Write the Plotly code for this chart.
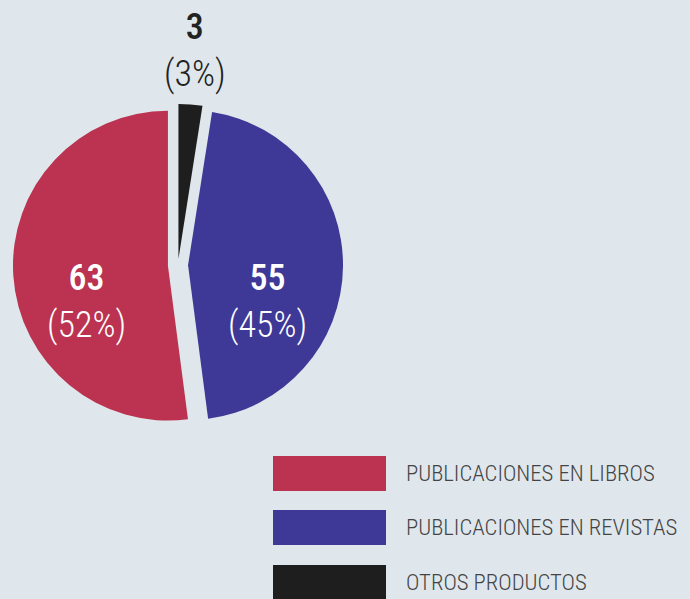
import plotly.graph_objects as go

labels = ["PUBLICACIONES EN LIBROS", "PUBLICACIONES EN REVISTAS", "OTROS PRODUCTOS"]
values = [63, 55, 3]
pct_labels = ["52%", "45%", "3%"]
colors = ["#bb3350", "#3e3996", "#1e1e1e"]
label_colors = ["white", "white", "#222222"]
pulls = [0.065, 0.065, 0.04]

FONT = "Roboto Condensed, Roboto, sans-serif"
BG = "#dfe7ed"
W, H = 690, 599

# slices drawn clockwise from 12 o'clock in reverse order (Otros, Revistas, Libros)
order = [2, 1, 0]

fig = go.Figure()
fig.add_trace(go.Pie(
    labels=[labels[i] for i in order],
    values=[values[i] for i in order],
    textinfo="none",
    marker=dict(colors=[colors[i] for i in order], line=dict(width=0)),
    pull=[pulls[i] for i in order],
    sort=False,
    direction="clockwise",
    rotation=0,
    hoverinfo="label+value",
    showlegend=False,
    domain=dict(x=[0.0188, 0.4971], y=[0.2821, 0.8331]),
))

# value / percentage labels (layout positions in pixels, per slice)
label_xy = [(86, 301), (267, 301), (195, 51)]
for v, p, c, (lx, ly) in zip(values, pct_labels, label_colors, label_xy):
    fig.add_annotation(xref="paper", yref="paper", x=lx / W, y=1 - ly / H,
                       text=f"<span style=\"font-weight:500\">{v}</span><br>({p})",
                       showarrow=False, xanchor="center", yanchor="middle",
                       font=dict(family=FONT, size=36, color=c, weight=300))

# custom legend: large colour swatches with labels
sw_x0, sw_x1 = 273, 386
row_tops = [456, 510, 565]
sw_h = 35
for lab, col, top in zip(labels, colors, row_tops):
    fig.add_shape(type="rect", xref="paper", yref="paper",
                  x0=sw_x0 / W, x1=sw_x1 / W,
                  y0=1 - (top + sw_h) / H, y1=1 - top / H,
                  fillcolor=col, line=dict(width=0), layer="above")
    fig.add_annotation(xref="paper", yref="paper", x=404 / W,
                       y=1 - (top + sw_h / 2) / H,
                       text=lab, showarrow=False, xanchor="left", yanchor="middle",
                       font=dict(family=FONT, size=22.7, color="#444444", weight=300))

fig.update_layout(
    width=W, height=H,
    margin=dict(l=0, r=0, t=0, b=0, autoexpand=False),
    paper_bgcolor=BG, plot_bgcolor=BG,
    font=dict(family=FONT),
)
fig.write_html("out.html", config=dict(displayModeBar=False),
               post_script="document.body.style.margin='0';document.body.style.background='#dfe7ed';")
